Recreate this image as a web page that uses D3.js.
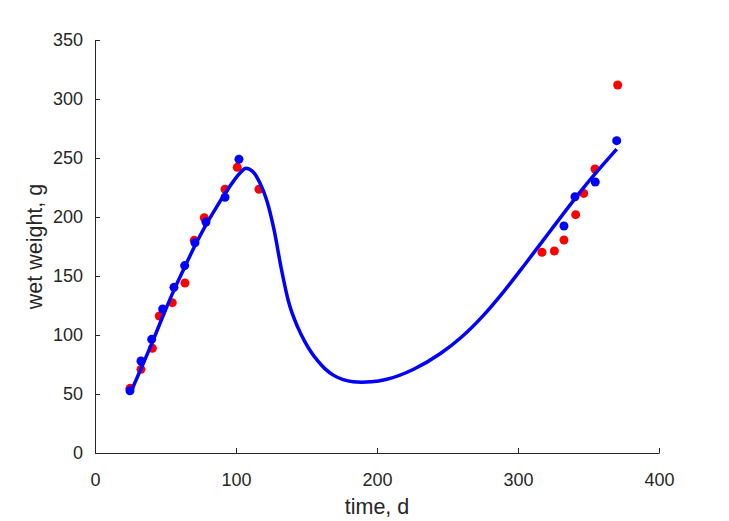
<!DOCTYPE html>
<html>
<head>
<meta charset="utf-8">
<script src="https://cdn.jsdelivr.net/npm/d3@7"></script>
<style>
  html, body { margin: 0; padding: 0; background: #ffffff; }
  svg { display: block; }
  .axis text { font-family: "Liberation Sans", Arial, sans-serif; font-size: 18px; fill: #262626; }
  .axis path, .axis line { stroke: #262626; stroke-width: 1; }
  .label { font-family: "Liberation Sans", Arial, sans-serif; font-size: 21.5px; fill: #262626; }
</style>
</head>
<body>
<div id="chart"></div>
<script>
// ---- data ----
const xTicks = [0, 100, 200, 300, 400];
const yTicks = [0, 50, 100, 150, 200, 250, 300, 350];

// red observations
const redT = [24.8, 32.6, 40.7, 45.6, 54.8, 63.8, 70.4, 77.5, 92.2, 100.9, 116.3,
              317.0, 325.8, 332.6, 340.9, 346.6, 354.6, 370.7];
const redW = [54.8, 70.9, 88.7, 116.1, 127.4, 144.1, 180.2, 199.4, 223.5, 242.1, 223.5,
              170.1, 171.2, 180.5, 202.0, 220.0, 240.7, 311.9];

// blue observations
const blueT = [24.8, 32.6, 40.2, 48.0, 56.0, 63.6, 70.9, 78.7, 92.2, 102.1,
               332.6, 340.4, 354.8, 370.0];
const blueW = [52.8, 78.0, 96.3, 122.0, 140.4, 158.8, 178.2, 195.8, 216.7, 248.9,
               192.4, 217.2, 229.7, 264.7];

// fitted curve
const curveT = [25, 33, 40, 48, 56, 64, 71, 79, 86, 92, 98, 103, 107,
                112, 117, 122, 127, 132, 137, 144, 149, 153, 158, 163, 169, 176, 183, 189,
                196, 207, 226, 245, 260, 275, 290, 305, 323, 347, 370];
const curveW = [50.6, 72.5, 92, 115.5, 138, 158.5, 176, 194, 208, 219.5, 230, 237.5, 241.3,
                238.3, 228.8, 213.3, 189, 157, 129.5, 106, 94, 86, 78, 71.5, 66, 62.2, 60.4, 60,
                60.3, 62.5, 71, 84.3, 98.3, 116, 137, 160, 188.4, 225.6, 257.5];

// ---- layout ----
const W = 729, H = 521;
const mLeft = 95, mRight = 659, mTop = 40, mBottom = 453;

const svg = d3.select("#chart").append("svg").attr("width", W).attr("height", H);

const x = d3.scaleLinear().domain([0, 400]).range([mLeft, mRight]);
const y = d3.scaleLinear().domain([0, 350]).range([mBottom, mTop]);

// axes
svg.append("g").attr("class", "axis")
  .attr("transform", `translate(0,${mBottom})`)
  .call(d3.axisBottom(x).tickValues(xTicks).tickSizeInner(-5).tickSizeOuter(0).tickPadding(20))
  .call(g => g.selectAll("text").attr("dy", "0.71em"));

svg.append("g").attr("class", "axis")
  .attr("transform", `translate(${mLeft},0)`)
  .call(d3.axisLeft(y).tickValues(yTicks).tickSizeInner(-5).tickSizeOuter(0).tickPadding(12));

// labels
svg.append("text").attr("class", "label")
  .attr("x", (mLeft + mRight) / 2).attr("y", 514)
  .attr("text-anchor", "middle").text("time, d");

svg.append("text").attr("class", "label")
  .attr("transform", `translate(42,${(mTop + mBottom) / 2}) rotate(-90)`)
  .attr("text-anchor", "middle").text("wet weight, g");

// red points
svg.append("g").selectAll("circle").data(redT.map((t, i) => [t, redW[i]]))
  .join("circle")
  .attr("cx", d => x(d[0])).attr("cy", d => y(d[1])).attr("r", 4.5)
  .attr("fill", "#ff0000");

// blue points
svg.append("g").selectAll("circle").data(blueT.map((t, i) => [t, blueW[i]]))
  .join("circle")
  .attr("cx", d => x(d[0])).attr("cy", d => y(d[1])).attr("r", 4.5)
  .attr("fill", "#0000ff");

// curve
const line = d3.line().x(d => x(d[0])).y(d => y(d[1])).curve(d3.curveMonotoneX);
svg.append("path")
  .datum(curveT.map((t, i) => [t, curveW[i]]))
  .attr("d", line)
  .attr("fill", "none").attr("stroke", "#0000ff").attr("stroke-width", 3.5)
  .attr("stroke-linejoin", "round");
</script>
</body>
</html>
